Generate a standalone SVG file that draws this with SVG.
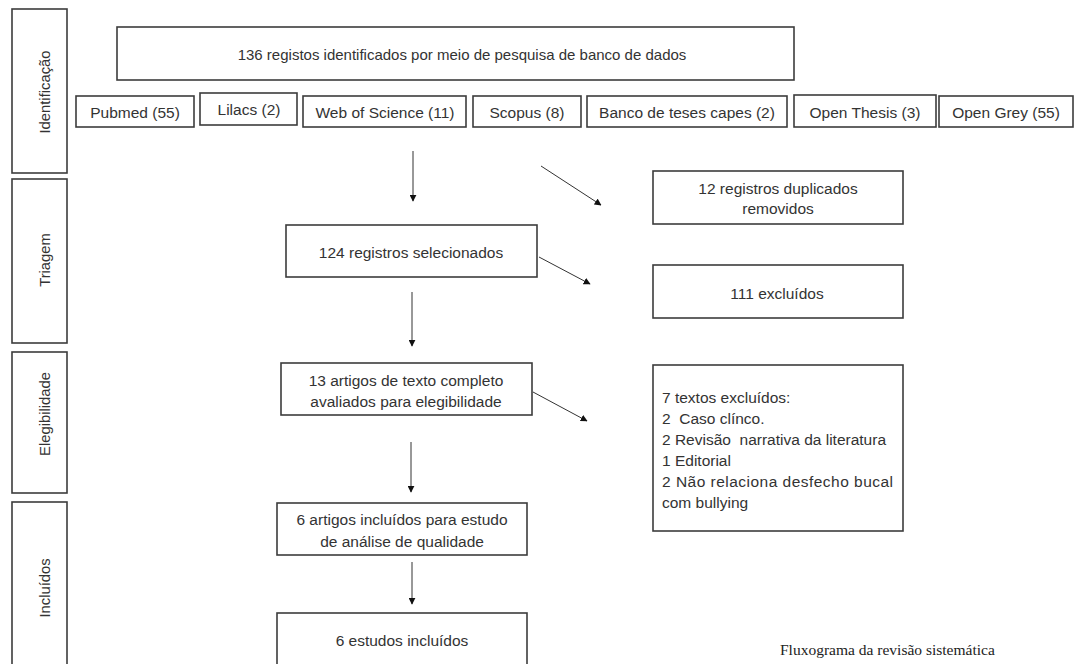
<svg xmlns="http://www.w3.org/2000/svg" width="1074" height="664" viewBox="0 0 1074 664">
<style>
.b{fill:#fff;stroke:#3c3c3c;stroke-width:1.6}
.t{font-family:"Liberation Sans",Arial,sans-serif;font-size:15.5px;fill:#333;text-anchor:middle;dominant-baseline:central}
.s{font-family:"Liberation Sans",Arial,sans-serif;font-size:14.8px;fill:#333;text-anchor:middle;dominant-baseline:central}
.l{font-family:"Liberation Sans",Arial,sans-serif;font-size:15.5px;fill:#333}
.c{stroke:#333;stroke-width:1;fill:none;marker-end:url(#ah)}
</style>
<defs>
<marker id="ah" viewBox="0 0 10 10" refX="9" refY="5" markerWidth="7" markerHeight="7" markerUnits="userSpaceOnUse" orient="auto">
<path d="M0,0 L10,5 L0,10 Z" fill="#111"/>
</marker>
</defs>
<rect width="1074" height="664" fill="#fff"/>
<g id="phase-identificacao"><rect class="b" x="12" y="9" width="55" height="164"/><text class="s" transform="translate(45,92) rotate(-90)">Identificação</text></g>
<g id="phase-triagem"><rect class="b" x="12" y="179" width="55" height="164"/><text class="s" transform="translate(45,260) rotate(-90)">Triagem</text></g>
<g id="phase-elegibilidade"><rect class="b" x="12" y="352" width="55" height="141"/><text class="s" transform="translate(45,414) rotate(-90)">Elegibilidade</text></g>
<g id="phase-incluidos"><rect class="b" x="12" y="502" width="55" height="170"/><text class="s" transform="translate(45,588) rotate(-90)">Incluídos</text></g>

<g id="n-total"><rect class="b" x="117" y="27" width="677" height="53"/><text class="t" x="462" y="54" style="font-size:15px">136 registos identificados por meio de pesquisa de banco de dados</text></g>
<g id="n-pubmed"><rect class="b" x="76" y="96" width="118" height="31"/><text class="t" x="135" y="112">Pubmed (55)</text></g>
<g id="n-lilacs"><rect class="b" x="200" y="93" width="97" height="32"/><text class="t" x="249" y="109">Lilacs (2)</text></g>
<g id="n-wos"><rect class="b" x="303" y="96" width="163" height="31"/><text class="t" x="385" y="112">Web of Science (11)</text></g>
<g id="n-scopus"><rect class="b" x="473" y="96" width="108" height="31"/><text class="t" x="527" y="112">Scopus (8)</text></g>
<g id="n-banco"><rect class="b" x="587" y="96" width="200" height="31"/><text class="t" x="687" y="112">Banco de teses capes (2)</text></g>
<g id="n-openthesis"><rect class="b" x="794" y="95" width="142" height="32"/><text class="t" x="865" y="112">Open Thesis (3)</text></g>
<g id="n-opengrey"><rect class="b" x="939" y="96" width="134" height="31"/><text class="t" x="1006" y="112">Open Grey (55)</text></g>

<g id="n-duplicados"><rect class="b" x="653" y="171" width="250" height="53"/><text class="t" x="778" y="188">12 registros duplicados</text><text class="t" x="778" y="208">removidos</text></g>
<g id="n-selecionados"><rect class="b" x="286" y="225" width="251" height="52"/><text class="t" x="411" y="252">124 registros selecionados</text></g>
<g id="n-excluidos"><rect class="b" x="653" y="265" width="250" height="53"/><text class="t" x="777" y="293">111 excluídos</text></g>
<g id="n-avaliados"><rect class="b" x="281" y="363" width="251" height="52"/><text class="t" x="406" y="380">13 artigos de texto completo</text><text class="t" x="406" y="401">avaliados para elegibilidade</text></g>
<g id="n-textos-excluidos"><rect class="b" x="653" y="365" width="250" height="166"/>
<text class="l" x="662" y="403">7 textos excluídos:</text>
<text class="l" x="662" y="424">2&#160; Caso clínco.</text>
<text class="l" x="662" y="445">2 Revisão&#160; narrativa da literatura</text>
<text class="l" x="662" y="466">1 Editorial</text>
<text class="l" x="662" y="487" textLength="231" lengthAdjust="spacing">2 Não relaciona desfecho bucal</text>
<text class="l" x="662" y="508">com bullying</text>
</g>
<g id="n-analise"><rect class="b" x="277" y="503" width="250" height="52"/><text class="t" x="402" y="519">6 artigos incluídos para estudo</text><text class="t" x="402" y="541">de análise de qualidade</text></g>
<g id="n-estudos"><rect class="b" x="277" y="613" width="250" height="60"/><text class="t" x="402" y="640">6 estudos incluídos</text></g>

<g id="connectors">
<line class="c" x1="413" y1="151" x2="413" y2="201"/>
<line class="c" x1="541" y1="166" x2="601" y2="205"/>
<line class="c" x1="539" y1="257" x2="590" y2="284"/>
<line class="c" x1="412" y1="292" x2="412" y2="346"/>
<line class="c" x1="533" y1="392" x2="587" y2="421"/>
<line class="c" x1="411" y1="442" x2="411" y2="492"/>
<line class="c" x1="412" y1="562" x2="412" y2="604"/>
</g>
<text x="780" y="655" style="font-family:'Liberation Serif','Times New Roman',serif;font-size:15.5px;fill:#222">Fluxograma da revisão sistemática</text>
</svg>
